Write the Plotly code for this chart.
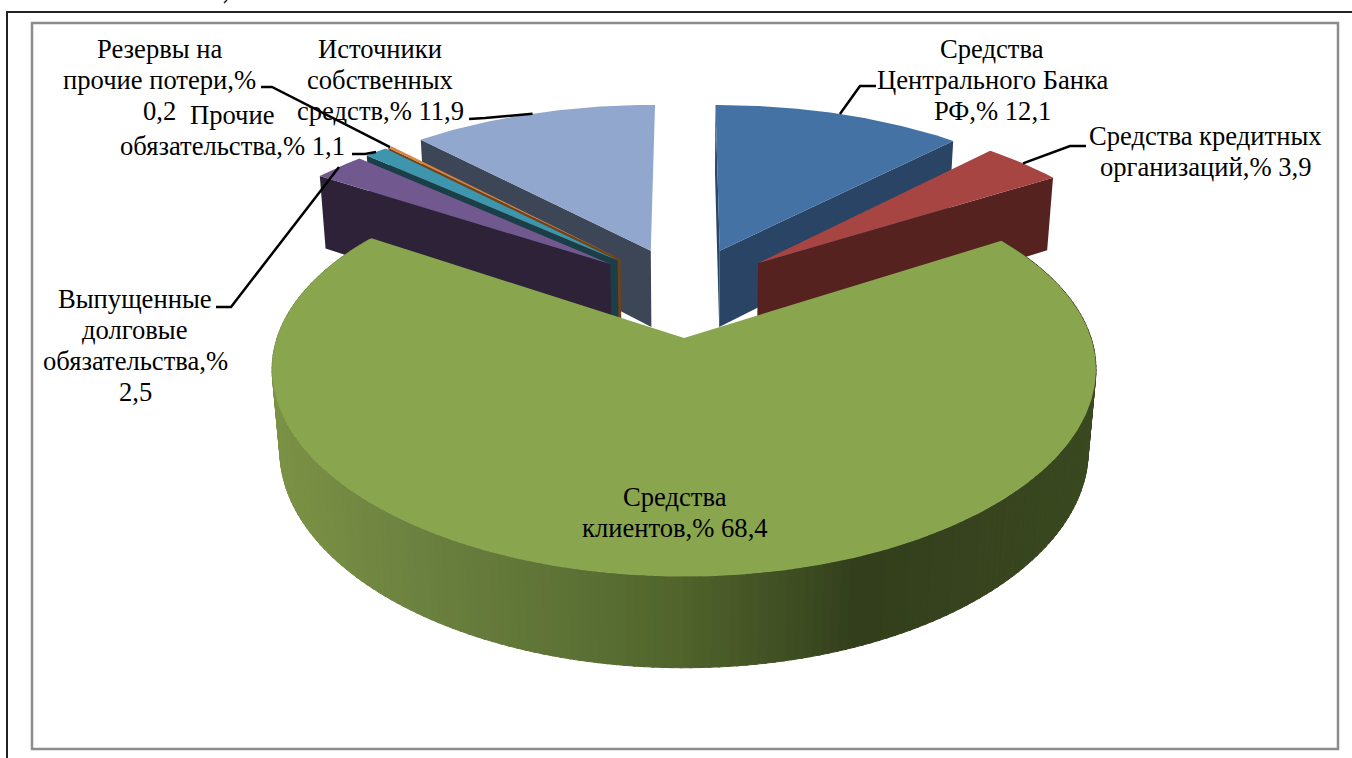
#!/usr/bin/env python
# coding: utf-8

import numpy as np
import plotly.graph_objects as go

names = ['Средства Центрального Банка РФ', 'Средства кредитных организаций', 'Средства клиентов',
         'Выпущенные долговые обязательства', 'Прочие обязательства',
         'Резервы на прочие потери', 'Источники собственных средств']
values = [12.1, 3.9, 68.4, 2.5, 1.1, 0.2, 11.9]

labels = [['Средства', 'Центрального Банка', 'РФ,% 12,1'],
          ['Средства кредитных', 'организаций,% 3,9'],
          ['Средства', 'клиентов,% 68,4'],
          ['Выпущенные', 'долговые', 'обязательства,%', '2,5'],
          ['Прочие', 'обязательства,% 1,1'],
          ['Резервы на', 'прочие потери,%', '0,2'],
          ['Источники', 'собственных', 'средств,% 11,9']]

top_colors = ['#4472a5', '#a74543', '#89a54e', '#71588f', '#3d96ae', '#db843d', '#92a7ce']
side_colors = ['#2a4466', '#552220', '#3b4a21', '#2d2238', '#1b3f48', '#6f4218', '#3c4656']

# where each label sits (first line) and where its leader line leaves it
label_x = [992, 1205, 675, 135, 232, 159, 380]
label_y = [49, 136, 497, 299, 115, 49, 49]
elbows = [[(876, 86), (860, 86)], [(1086, 146), (1070, 146)], [], [(216, 307), (231, 307)],
          [(352, 154), (365, 154)], [(261, 87), (272, 87)], [(469, 119), (485, 118)]]
LINE_H = 31

# side shading of the big slice, left to right on screen
shade_x = [270, 420, 600, 680, 800, 850, 1000, 1098]
shade_r = [125, 108, 90, 80, 62, 51, 56, 59]
shade_g = [148, 130, 111, 100, 76, 63, 69, 74]
shade_b = [70, 64, 51, 44, 34, 28, 31, 33]

# fake 3d pie: projection of the disc on the page
CX, CY = 685, 291
RADIUS = 392
PULL = 97
TILT = 0.464
PERSP = 0.00042
DEPTH = 80
SINK = 0.02


def project(X, Y, bottom=False):
    f = 1 / (1 + PERSP * Y + (SINK if bottom else 0))
    sx = CX + X * f ** 0.9
    sy = CY - TILT * Y * f + (DEPTH * f if bottom else 0)
    return sx, sy


total = sum(values)
edges = np.cumsum([0] + values) / total * 2 * np.pi


def apex(i):
    mid = (edges[i] + edges[i + 1]) / 2
    return PULL * np.sin(mid), PULL * np.cos(mid)


def rim(i, angle):
    ox, oy = apex(i)
    return ox + RADIUS * np.sin(angle), oy + RADIUS * np.cos(angle)


def poly(xs, ys, color, width=0):
    return go.Scatter(x=xs, y=ys, mode='lines', fill='toself', fillcolor=color,
                      line=dict(color=color, width=width), hoverinfo='skip', showlegend=False)


def radial_side(i, angle):
    ox, oy = apex(i)
    rx, ry = rim(i, angle)
    a = project(ox, oy)
    b = project(rx, ry)
    c = project(rx, ry, True)
    d = project(ox, oy, True)
    return poly([a[0], b[0], c[0], d[0], a[0]], [a[1], b[1], c[1], d[1], a[1]], side_colors[i])


def top_face(i):
    ox, oy = apex(i)
    angles = np.linspace(edges[i], edges[i + 1], max(int((edges[i + 1] - edges[i]) / 0.01), 4))
    rx, ry = rim(i, angles)
    sx, sy = project(rx, ry)
    a = project(ox, oy)
    return poly([a[0]] + list(sx) + [a[0]], [a[1]] + list(sy) + [a[1]], top_colors[i])


fig = go.Figure()

# back slices first, the big front one last
for i in [6, 5, 4, 3]:
    fig.add_trace(radial_side(i, edges[i]))
    fig.add_trace(top_face(i))
fig.add_trace(radial_side(0, edges[0]))
fig.add_trace(radial_side(0, edges[1]))
fig.add_trace(top_face(0))
fig.add_trace(radial_side(1, edges[2]))
fig.add_trace(top_face(1))

steps = np.arange(edges[2], edges[3], 0.02)
for a0, a1 in zip(steps[:-1], steps[1:] + 0.006):
    x0, y0 = rim(2, a0)
    x1, y1 = rim(2, a1)
    t0 = project(x0, y0)
    t1 = project(x1, y1)
    b0 = project(x0, y0, True)
    b1 = project(x1, y1, True)
    xm = (b0[0] + b1[0]) / 2
    color = 'rgb(%d,%d,%d)' % (np.interp(xm, shade_x, shade_r),
                               np.interp(xm, shade_x, shade_g),
                               np.interp(xm, shade_x, shade_b))
    fig.add_trace(poly([t0[0], t1[0], b1[0], b0[0], t0[0]],
                       [t0[1], t1[1], b1[1], b0[1], t0[1]], color, 1))
fig.add_trace(top_face(2))

# leader lines end on the rim at the middle of their slice
for i in range(len(values)):
    if not elbows[i]:
        continue
    mid = (edges[i] + edges[i + 1]) / 2
    end = project(*rim(i, mid))
    pts = elbows[i] + [end]
    fig.add_trace(go.Scatter(x=[p[0] for p in pts], y=[p[1] for p in pts], mode='lines',
                             line=dict(color='black', width=2.5), hoverinfo='skip', showlegend=False))

for i in range(len(values)):
    for n, line in enumerate(labels[i]):
        fig.add_annotation(x=label_x[i], y=label_y[i] + n * LINE_H, text=line, showarrow=False,
                           xanchor='center', yanchor='middle', align='center',
                           font=dict(family='Liberation Serif', size=26.6, color='black'))

# tail of the page text that is cut off above the frame
fig.add_shape(type='line', x0=227, y0=0, x1=224, y1=3, line=dict(color='#222222', width=1.5))

fig.add_shape(type='rect', x0=7, y0=12, x1=1400, y1=800, line=dict(color='#222222', width=2))
fig.add_shape(type='rect', x0=32, y0=23, x1=1338, y1=749, line=dict(color='#8c8c8c', width=2.5))

fig.update_layout(width=1352, height=758, margin=dict(l=0, r=0, t=0, b=0),
                  paper_bgcolor='white', plot_bgcolor='white', showlegend=False,
                  xaxis=dict(range=[0, 1352], visible=False),
                  yaxis=dict(range=[758, 0], visible=False))

fig.write_html("out.html", config={'displayModeBar': False},
               post_script="document.body.style.margin='0';document.body.style.overflow='hidden';")
